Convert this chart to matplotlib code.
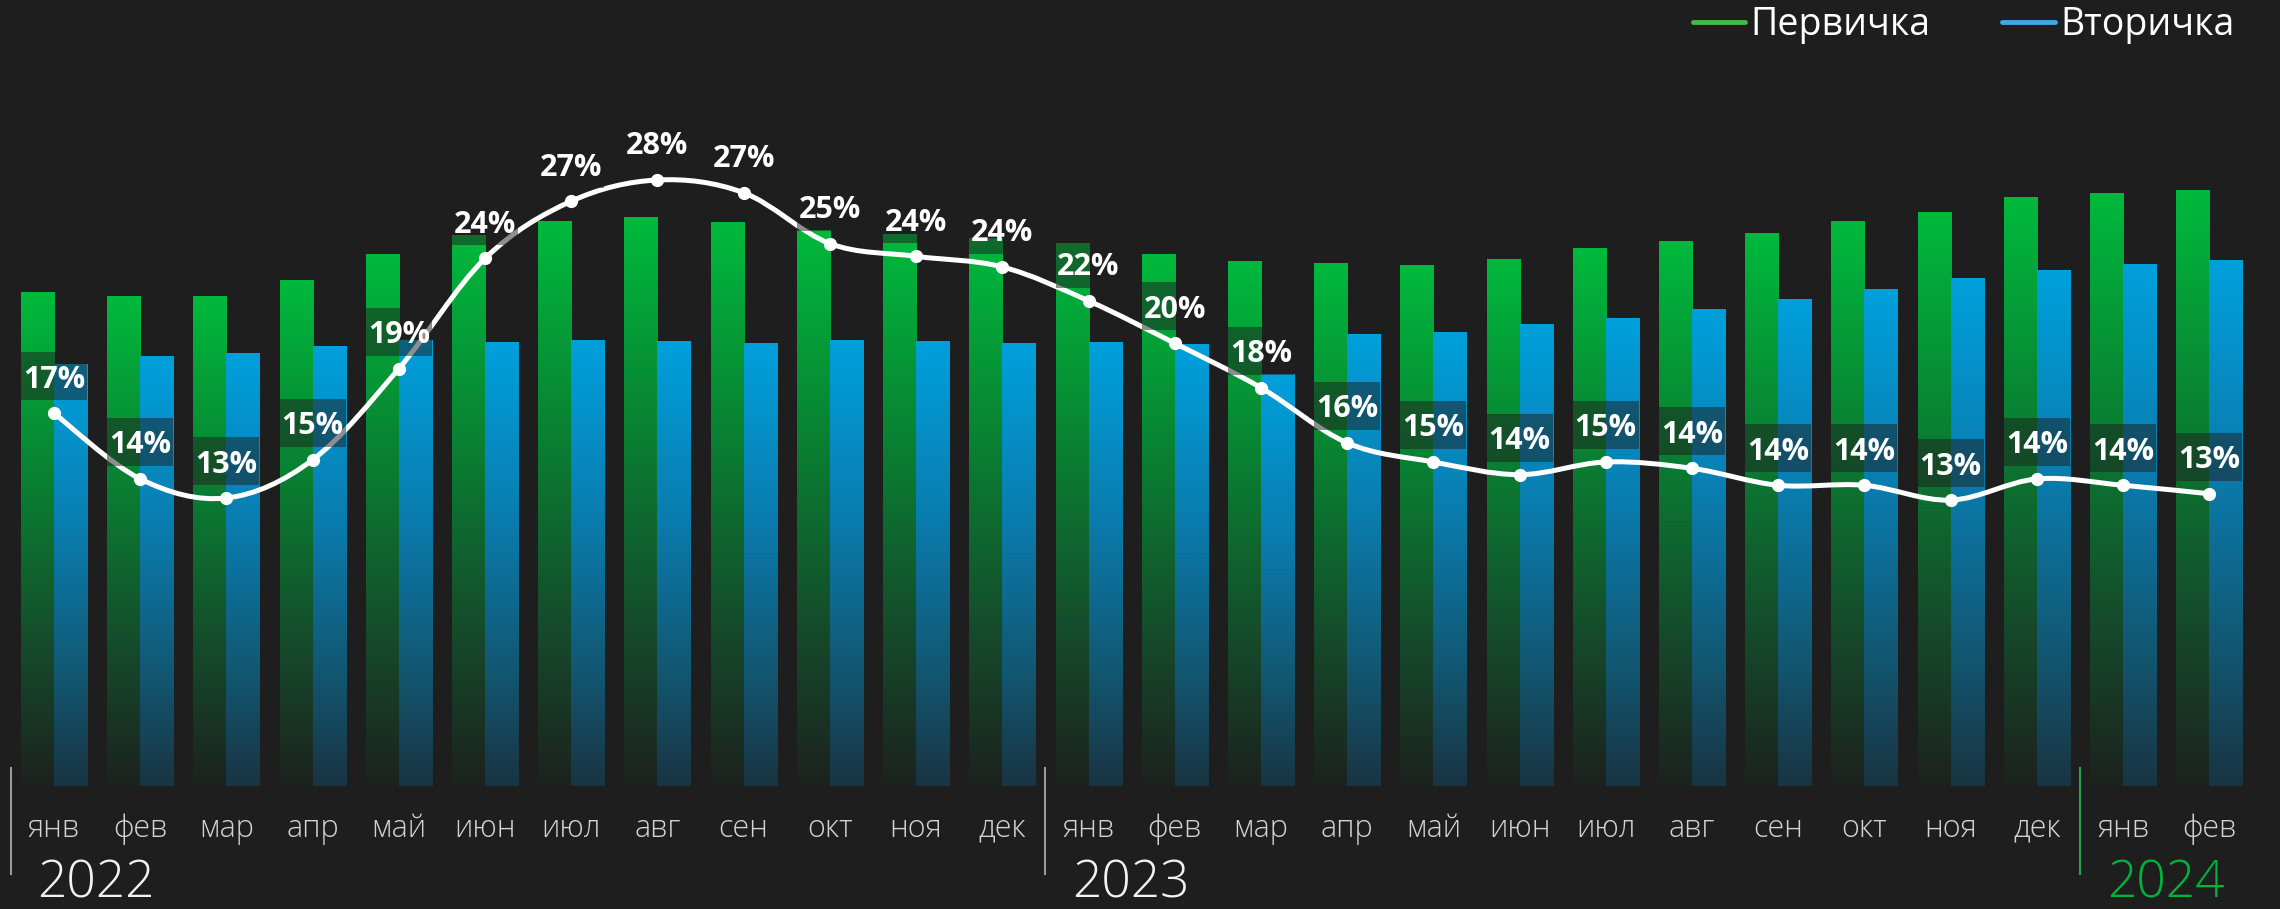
import numpy as np
import matplotlib.pyplot as plt
from matplotlib.colors import LinearSegmentedColormap
from matplotlib.lines import Line2D
from matplotlib.patches import Rectangle, PathPatch
from matplotlib.path import Path

# months Jan 2022 .. Feb 2024
months = ['янв', 'фев', 'мар', 'апр', 'май', 'июн', 'июл', 'авг', 'сен', 'окт', 'ноя', 'дек',
          'янв', 'фев', 'мар', 'апр', 'май', 'июн', 'июл', 'авг', 'сен', 'окт', 'ноя', 'дек',
          'янв', 'фев']
years = ['2022', '2023', '2024']
year_start = [0, 12, 24]

# bar heights (relative units, no axis on the chart)
primary = [494, 490, 490, 506, 532, 551, 565, 569, 564, 556, 552, 548, 543,
           532, 525, 523, 521, 527, 538, 545, 553, 565, 574, 589, 593, 596]
secondary = [422, 430, 433, 440, 446, 444, 446, 445, 443, 446, 445, 443, 444,
             442, 412, 452, 454, 462, 468, 477, 487, 497, 508, 516, 522, 526]
# white line, %
share = [17.0, 13.9, 13.0, 14.8, 19.1, 24.3, 27.0, 28.0, 27.4, 25.0, 24.4, 23.9, 22.3,
         20.3, 18.2, 15.6, 14.7, 14.1, 14.7, 14.4, 13.6, 13.6, 12.9, 13.9, 13.6, 13.2]

bg = '#1e1e1e'
fam = ['Open Sans', 'DejaVu Sans']

green_cmap = LinearSegmentedColormap.from_list('g', [(0.0, '#1c221e'), (0.25, '#16462a'),
                                                     (0.6, '#0a7d32'), (1.0, '#00b93c')])
blue_cmap = LinearSegmentedColormap.from_list('b', [(0.0, '#193442'), (0.25, '#125670'),
                                                    (0.6, '#0a7cae'), (1.0, '#00a0dc')])
grad = np.linspace(0, 1, 256).reshape(-1, 1)

fig = plt.figure(figsize=(22.8, 9.09), dpi=100, facecolor=bg)
ax = fig.add_axes([0, 123 / 909, 1, 726 / 909])
ax.set_facecolor(bg)

x = np.arange(len(months))
w = 0.383
bars_g = ax.bar(x - w / 2, primary, width=w, color='none', edgecolor='none')
bars_b = ax.bar(x + w / 2, secondary, width=w, color='none', edgecolor='none')
for bars, cmap in [(bars_g, green_cmap), (bars_b, blue_cmap)]:
    for r in bars:
        x0, h = r.get_x(), r.get_height()
        ax.imshow(grad, extent=[x0, x0 + r.get_width(), 0, h], origin='lower',
                  cmap=cmap, aspect='auto', zorder=2, interpolation='bilinear')

ax.set_xlim(-0.626, 25.82)
ax.set_ylim(0, 726)
for s in ax.spines.values():
    s.set_visible(False)
ax.set_xticks([])
ax.set_yticks([])

# month and year labels under the bars
trans = ax.get_xaxis_transform()
for i, m in enumerate(months):
    ax.text(i, -0.070, m, transform=trans, ha='center', va='baseline',
            fontsize=22, color='#d4d4d4', family=fam, fontweight='light')
for yr, i0 in zip(years, year_start):
    col = '#00b33c' if yr == '2024' else '#f2f2f2'
    sep = '#2aa14e' if yr == '2024' else '#9a9a9a'
    ax.plot([i0 - 0.5, i0 - 0.5], [0.025, -0.121], transform=trans, color=sep,
            lw=1.5, clip_on=False)
    ax.text(i0 - 0.19, -0.153, yr, transform=trans, ha='left', va='baseline',
            fontsize=37, color=col, family=fam, fontweight='light')

# smooth white line on its own axis
ax2 = ax.twinx()
ax2.set_ylim(-0.585, 33.66)
ax2.set_yticks([])
for s in ax2.spines.values():
    s.set_visible(False)

pts = np.column_stack([x, share])
verts = [pts[0]]
codes = [Path.MOVETO]
for i in range(len(pts) - 1):
    p0 = pts[i - 1] if i > 0 else pts[i]
    p1, p2 = pts[i], pts[i + 1]
    p3 = pts[i + 2] if i + 2 < len(pts) else pts[i + 1]
    verts += [p1 + (p2 - p0) / 6, p2 - (p3 - p1) / 6, p2]
    codes += [Path.CURVE4] * 3
ax2.add_patch(PathPatch(Path(verts, codes), facecolor='none', edgecolor='white',
                        lw=3.6, capstyle='round', joinstyle='round', zorder=3))
ax2.plot(x, share, 'o', color='white', ms=8.5, zorder=3)

dy = 1.745
for i, v in enumerate(share):
    ax2.add_patch(Rectangle((i - w, v + dy - 1.132), 2 * w, 2.264, facecolor=bg,
                            alpha=0.5, edgecolor='none', zorder=4))
    ax2.text(i, v + dy, f'{v:.0f}%', ha='center', va='center_baseline', fontsize=22,
             color='white', fontweight='bold', family=fam, zorder=5)

handles = [Line2D([], [], color='#45b649', lw=3.5, solid_capstyle='round'),
           Line2D([], [], color='#45a5e3', lw=3.5, solid_capstyle='round')]
fig.legend(handles, ['Первичка', 'Вторичка'], loc='upper right',
           bbox_to_anchor=(2240 / 2280, 1.0), ncol=2, frameon=False,
           prop={'family': fam, 'size': 27}, labelcolor='white', handlelength=1.4,
           handletextpad=0.15, columnspacing=1.9, borderaxespad=0, borderpad=0.15)

fig.savefig('out.png', dpi=100, facecolor=bg)
